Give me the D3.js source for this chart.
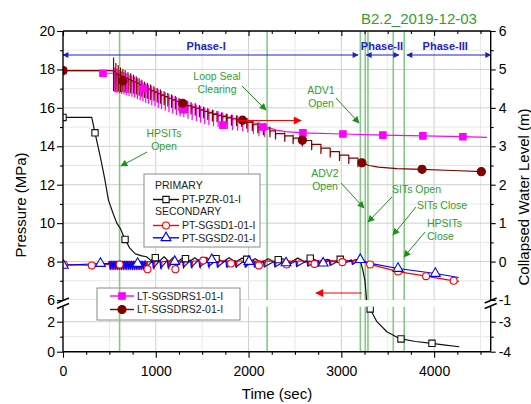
<!DOCTYPE html>
<html>
<head>
<meta charset="utf-8">
<script src="https://cdn.jsdelivr.net/npm/d3@7"></script>
<style>
  body { margin: 0; background: #fff; }
  svg { display: block; }
  text { font-family: "Liberation Sans", Arial, sans-serif; }
</style>
</head>
<body>
<svg width="531" height="404"></svg>
<script>
// ---- data ----
// time axis
const tMax = 4610;
const xMajor = [0, 1000, 2000, 3000, 4000];
const xMinor = [250, 500, 750, 1250, 1500, 1750, 2250, 2500, 2750, 3250, 3500, 3750, 4250, 4500];
const xGrid = [500, 1000, 1500, 2000, 2500, 3000, 3500, 4000, 4500];

// pressure axis (broken) and level axis (broken)
const pMajorTop = [6, 8, 10, 12, 14, 16, 18, 20];
const pMinorTop = [7, 9, 11, 13, 15, 17, 19];
const pMajorBot = [0, 2];
const pMinorBot = [1];
const lMajorTop = [-1, 0, 1, 2, 3, 4, 5, 6];
const lMinorTop = [-0.5, 0.5, 1.5, 2.5, 3.5, 4.5, 5.5];
const lMajorBot = [-4, -3];
const lMinorBot = [-3.5];

// PT-PZR-01-I  [time s, MPa]
const pzr = [[0,15.5],[310,15.5],[345,14.7],[400,13.5],[450,12.3],[490,11.2],[540,10.5],[580,10.0],
  [620,9.7],[669,9.15],[720,8.7],[780,8.4],[850,8.3],[900,8.25],[950,8.05],[990,8.28],[1040,8.02],
  [1090,8.25],[1140,8.0],[1190,8.22],[1240,8.0],[1300,8.22],[1360,7.98],[1420,8.2],[1480,7.98],
  [1540,8.22],[1600,8.0],[1660,8.2],[1720,7.98],[1790,8.2],[1860,7.98],[1930,8.18],[2000,7.96],
  [2070,8.15],[2140,7.95],[2210,8.15],[2290,7.95],[2370,8.15],[2450,7.95],[2530,8.18],[2610,7.97],
  [2690,8.15],[2770,7.97],[2850,8.12],[2930,7.98],[3010,8.12],[3090,8.0],[3160,8.1],[3200,8.1],
  [3230,7.6],[3255,7.0],[3272,6.0],[3286,3.0],[3311,2.85],[3383,2.0],[3491,1.33],[3600,0.96],
  [3643,0.85],[3800,0.68],[3977,0.56],[4100,0.46],[4272,0.33]];
const pzrMarks = [[0,15.5],[345,14.7],[669,9.15],[995,8.2],[1320,8.15],[1650,8.15],[1980,8.12],
  [2320,8.1],[2665,8.18],[2988,8.12],[3311,2.85],[3643,0.85],[3977,0.56]];

// PT-SGSD1-01-I  (V-shaped dips)
const sgsd1Start = [[0,7.85],[310,7.80],[490,7.85]];
const sgsd1T = [510,530,550,570,590,610,630,650,670,690,710,730,750,770,790,810,830,850,870,
  905,980,1060,1140,1215,1300,1390,1480,1575,1670,1770,1870,1970,2070,2175,2290,2405,2525,2645,2765,2885,3005,3125];
const sgsd1Hi = [8.0,8.0,8.0,8.0,8.0,8.0,8.0,8.0,8.0,8.0,8.0,8.0,8.0,8.0,8.0,8.0,8.0,8.0,8.0,
  8.0,8.0,8.0,8.02,8.02,8.02,8.03,8.03,8.04,8.04,8.04,8.03,8.03,8.02,8.02,8.02,8.02,8.03,8.03,8.04,8.04,8.05,8.05];
const sgsd1Lo = [7.58,7.58,7.58,7.58,7.58,7.58,7.58,7.58,7.58,7.58,7.58,7.58,7.58,7.58,7.58,7.58,7.58,7.58,7.58,
  7.58,7.6,7.6,7.6,7.62,7.65,7.65,7.66,7.66,7.68,7.68,7.7,7.7,7.7,7.72,7.74,7.74,7.76,7.78,7.8,7.82,7.84,7.86];
const sgsd1End = [[3200,8.05],[3311,7.85],[3611,7.48],[3913,7.24],[4211,7.0],[4270,6.97]];
const sgsd1Marks = [[10,7.85],[310,7.8],[611,7.85],[911,7.6],[1211,7.6],[1511,8.05],[1811,7.9],
  [2111,7.8],[2411,7.85],[2711,7.88],[3011,7.97],[3311,7.85],[3611,7.48],[3913,7.24],[4211,7.0]];

// PT-SGSD2-01-I  (sharp drop, slow rise)
const sgsd2Start = [[0,7.80],[404,7.90],[490,7.9]];
const sgsd2T = [500,520,540,560,580,600,620,640,660,680,700,720,740,760,780,800,820,840,860,
  885,965,1045,1125,1205,1290,1375,1465,1560,1655,1755,1855,1955,2055,2160,2275,2390,2510,2630,2750,2870,2990,3110];
const sgsd2Hi = [8.02,8.02,8.02,8.02,8.02,8.02,8.02,8.02,8.02,8.02,8.02,8.02,8.02,8.02,8.02,8.02,8.02,8.02,8.02,
  8.05,8.05,8.06,8.06,8.07,8.07,8.08,8.1,8.08,8.08,8.06,8.05,8.04,8.04,8.02,8.0,8.02,8.03,8.04,8.05,8.07,8.08,8.09];
const sgsd2Lo = [7.62,7.62,7.62,7.62,7.62,7.62,7.62,7.62,7.62,7.62,7.62,7.62,7.62,7.62,7.62,7.62,7.62,7.62,7.62,
  7.65,7.66,7.66,7.68,7.7,7.7,7.7,7.72,7.74,7.72,7.72,7.72,7.72,7.72,7.72,7.72,7.74,7.74,7.76,7.78,7.8,7.82,7.85];
const sgsd2End = [[3204,8.1],[3300,7.92],[3611,7.64],[4013,7.38],[4265,7.17]];
const sgsd2Marks = [[4,7.8],[404,7.9],[804,7.9],[1204,8.0],[1604,8.1],[2004,8.0],[2404,7.93],
  [2804,7.92],[3204,8.1],[3611,7.64],[4013,7.38]];

// LT-SGSDRS1-01-I  [time s, m]
const drs1Start = [[0,4.97],[400,4.97],[420,4.9],[540,4.9]];
const drs1TeethT = [557,582,607,632,657,682,712,742,772,802,832,862,892,922,957,992,1027,1062,1102,1142,
  1182,1222,1262,1302,1347,1392,1437,1482,1527,1572,1622,1672,1722,1772,1827,1882,1937,1992,2052,2112,2172];
const drs1TeethB = [4.92,4.88,4.85,4.82,4.80,4.77,4.74,4.71,4.68,4.64,4.60,4.56,4.52,4.49,4.45,4.41,4.37,4.33,4.29,4.25,
  4.21,4.17,4.13,4.10,4.06,4.02,3.99,3.95,3.91,3.88,3.85,3.82,3.79,3.76,3.73,3.71,3.69,3.65,3.60,3.55,3.52];
const drs1TeethUp = [0.12,0.12,0.12,0.12,0.12,0.12,0.12,0.12,0.12,0.12,0.1,0.1,0.1,0.1,0.1,0.1,0.1,0.1,0.1,0.1,
  0.1,0.1,0.1,0.1,0.1,0.08,0.08,0.08,0.08,0.08,0.08,0.08,0.08,0.08,0.08,0.08,0.08,0.08,0.08,0.08,0.08];
const drs1TeethDn = [0.5,0.48,0.46,0.45,0.44,0.43,0.42,0.41,0.4,0.4,0.39,0.38,0.38,0.37,0.37,0.36,0.36,0.35,0.35,0.35,
  0.34,0.34,0.34,0.33,0.33,0.33,0.32,0.32,0.32,0.31,0.31,0.3,0.3,0.3,0.29,0.29,0.28,0.28,0.27,0.27,0.26];
const drs1End = [[2200,3.50],[2300,3.42],[2400,3.38],[2586,3.35],[3017,3.32],[3448,3.29],[3879,3.27],[4310,3.25],[4570,3.23]];
const drs1Marks = [[0,4.97],[431,4.9],[862,4.5],[1293,3.95],[1724,3.55],[2155,3.5],[2586,3.35],[3017,3.32],[3448,3.29],[3879,3.27],[4310,3.25]];

// LT-SGSDRS2-01-I
const drs2Start = [[0,4.97],[500,4.97],[540,4.96]];
const drs2TeethT = [545,570,595,620,645,670,700,730,760,790,820,850,880,910,945,980,1015,1050,1090,1130,
  1170,1210,1250,1290,1335,1380,1425,1470,1515,1560,1610,1660,1710,1760,1815,1870,1925,1980,2040,2100,
  2160,2230,2290,2390,2480,2580,2680,2780,2880,2980,3080,3180];
const drs2TeethB = [4.95,4.88,4.85,4.82,4.80,4.77,4.74,4.71,4.68,4.64,4.60,4.56,4.52,4.49,4.45,4.41,4.37,4.33,4.29,4.25,
  4.21,4.17,4.13,4.10,4.06,4.02,3.99,3.95,3.91,3.87,3.83,3.80,3.77,3.74,3.71,3.69,3.67,3.62,3.56,3.50,
  3.45,3.40,3.33,3.27,3.21,3.15,3.05,2.95,2.86,2.77,2.69,2.61];
const drs2TeethUp = [0.35,0.28,0.25,0.22,0.2,0.2,0.18,0.18,0.17,0.17,0.16,0.16,0.15,0.15,0.15,0.14,0.14,0.14,0.13,0.13,
  0.13,0.13,0.12,0.12,0.12,0.12,0.12,0.11,0.11,0.11,0.11,0.11,0.1,0.1,0.1,0.1,0.1,0.1,0.1,0.1,
  0.1,0.1,0.08,0.08,0.08,0.08,0.08,0.08,0.08,0.08,0.08,0.08];
const drs2TeethDn = [0.5,0.45,0.42,0.4,0.38,0.36,0.34,0.32,0.3,0.28,0.27,0.26,0.25,0.24,0.23,0.22,0.22,0.21,0.21,0.2,
  0.2,0.2,0.19,0.19,0.19,0.18,0.18,0.18,0.17,0.17,0.17,0.16,0.16,0.16,0.16,0.15,0.15,0.15,0.15,0.15,
  0.15,0.15,0.14,0.14,0.14,0.14,0.14,0.14,0.14,0.14,0.14,0.14];
const drs2End = [[3222,2.57],[3300,2.50],[3400,2.46],[3600,2.42],[3870,2.40],[4200,2.37],[4520,2.34]];
const drs2Marks = [[0,4.97],[645,4.7],[1290,4.12],[1935,3.68],[2580,3.16],[3222,2.57],[3870,2.40],[4509,2.34]];

// events (green lines) and phases
const eventT = [610, 2200, 3205, 3258, 3287, 3560, 3678];
const phaseNames = ['Phase-I', 'Phase-II', 'Phase-III'];
const phaseStart = [0, 3268, 3707];
const phaseEnd = [3180, 3620, 4610];
const phaseLabelT = [1543, 3438, 4120];

// ---- scales ----
const x = d3.scaleLinear().domain([0, tMax]).range([63, 490.7]);
const pTop = d3.scaleLinear().domain([6, 20]).range([300, 31]);
const pBot = d3.scaleLinear().domain([0, 3]).range([351.7, 306.7]);
const lTop = d3.scaleLinear().domain([-1, 6]).range([300, 31]);
const lBot = d3.scaleLinear().domain([-4, -2.5]).range([351.7, 306.7]);
const yP = v => v >= 4.5 ? pTop(v) : pBot(v);
const yL = v => v >= -1.75 ? lTop(v) : lBot(v);

const X0 = 63, X1 = 490.7, Y0 = 31, Y1 = 351.7, GAP0 = 300, GAP1 = 306.7;

const svg = d3.select('svg');
const defs = svg.append('defs');
const clip = defs.append('clipPath').attr('id', 'plot');
clip.append('rect').attr('x', X0).attr('y', Y0).attr('width', X1 - X0).attr('height', GAP0 - Y0);
clip.append('rect').attr('x', X0).attr('y', GAP1).attr('width', X1 - X0).attr('height', Y1 - GAP1);

function arrowDef(id, color, w, h) {
  defs.append('marker').attr('id', id)
    .attr('viewBox', '0 0 10 10').attr('refX', 9).attr('refY', 5)
    .attr('markerWidth', w).attr('markerHeight', h)
    .attr('markerUnits', 'userSpaceOnUse')
    .attr('orient', 'auto-start-reverse')
    .append('path').attr('d', 'M0,0L10,5L0,10z').attr('fill', color);
}
arrowDef('ag', '#1e8f1e', 8, 7);
arrowDef('ar', '#ff0000', 11, 8);
arrowDef('ab', '#2020c0', 9, 6);

// ---- grid ----
const grid = svg.append('g').attr('clip-path', 'url(#plot)');
grid.selectAll('.gx').data(xGrid).join('line')
  .attr('x1', d => x(d)).attr('x2', d => x(d)).attr('y1', Y0).attr('y2', Y1)
  .attr('stroke', d => d % 1000 === 0 ? '#cfcfcf' : '#e8e8e8').attr('stroke-width', 1);
grid.selectAll('.gp').data(pMajorTop.concat(pMinorTop)).join('line')
  .attr('x1', X0).attr('x2', X1).attr('y1', d => pTop(d)).attr('y2', d => pTop(d))
  .attr('stroke', d => d % 2 === 0 ? '#cfcfcf' : '#e8e8e8');
grid.selectAll('.gb').data(pMajorBot.concat(pMinorBot)).join('line')
  .attr('x1', X0).attr('x2', X1).attr('y1', d => pBot(d)).attr('y2', d => pBot(d))
  .attr('stroke', d => d % 2 === 0 ? '#cfcfcf' : '#e8e8e8');

// ---- legend boxes ----
svg.append('rect').attr('x', 144).attr('y', 174).attr('width', 116).attr('height', 73)
  .attr('fill', '#fff').attr('stroke', '#8a8a8a');
svg.append('rect').attr('x', 97).attr('y', 288).attr('width', 143).attr('height', 32)
  .attr('fill', '#fff').attr('stroke', '#8a8a8a');

// ---- event lines ----
svg.append('g').attr('clip-path', 'url(#plot)')
  .selectAll('line').data(eventT).join('line')
  .attr('x1', d => x(d)).attr('x2', d => x(d)).attr('y1', Y0).attr('y2', Y1)
  .attr('stroke', '#86c986').attr('stroke-width', 1.6);

// ---- series ----
function teeth(start, T, B, U, D, end) {
  const pts = start.slice();
  T.forEach((t, i) => {
    const prev = pts[pts.length - 1][1];
    pts.push([t, prev], [t, B[i] + U[i]], [t, B[i] - D[i]], [t + 3, B[i]]);
  });
  return pts.concat(end);
}
function saw(start, T, Hi, Lo, end) {
  const pts = start.slice();
  T.forEach((t, i) => { pts.push([t, Hi[i]], [t + 8, Lo[i]]); });
  return pts.concat(end);
}
function vdips(start, T, Hi, Lo, end) {
  const pts = start.slice();
  T.forEach((t, i) => { pts.push([t - 6, Hi[i]], [t, Lo[i]], [t + 6, Hi[i]]); });
  return pts.concat(end);
}

const lineP = d3.line().x(d => x(d[0])).y(d => yP(d[1]));
const lineL = d3.line().x(d => x(d[0])).y(d => yL(d[1]));
const plot = svg.append('g').attr('clip-path', 'url(#plot)');

const series = [
  { pts: pzr, line: lineP, color: '#111' },
  { pts: vdips(sgsd1Start, sgsd1T, sgsd1Hi, sgsd1Lo, sgsd1End), line: lineP, color: '#ff0000' },
  { pts: saw(sgsd2Start, sgsd2T, sgsd2Hi, sgsd2Lo, sgsd2End), line: lineP, color: '#0000ff' },
  { pts: teeth(drs1Start, drs1TeethT, drs1TeethB, drs1TeethUp, drs1TeethDn, drs1End), line: lineL, color: '#ff00ff' },
  { pts: teeth(drs2Start, drs2TeethT, drs2TeethB, drs2TeethUp, drs2TeethDn, drs2End), line: lineL, color: '#800000' }
];
series.forEach(s => {
  plot.append('path').attr('d', s.line(s.pts)).attr('fill', 'none')
    .attr('stroke', s.color).attr('stroke-width', 1.2).attr('stroke-linejoin', 'round');
});

const sym = (type, size) => d3.symbol().type(type).size(size)();
function marks(data, yf, type, size, stroke, fill) {
  plot.append('g').selectAll('path').data(data).join('path')
    .attr('transform', d => `translate(${x(d[0])},${yf(d[1])})`)
    .attr('d', sym(type, size))
    .attr('fill', fill).attr('stroke', stroke).attr('stroke-width', 1.1);
}
marks(pzrMarks, yP, d3.symbolSquare, 40, '#111', '#fff');
marks(sgsd1Marks, yP, d3.symbolCircle, 38, '#ff0000', '#fff');
marks(sgsd2Marks, yP, d3.symbolTriangle, 42, '#0000ff', '#fff');
marks(drs1Marks, yL, d3.symbolSquare, 42, '#ff00ff', '#ff00ff');
marks(drs2Marks, yL, d3.symbolCircle, 52, '#800000', '#800000');

// ---- legends ----
const lg = svg.append('g').attr('font-size', 10.5).attr('fill', '#222');
lg.append('text').attr('x', 155).attr('y', 189).text('PRIMARY');
lg.append('text').attr('x', 155).attr('y', 215).text('SECONDARY');
const legendRows = [
  { y: 199.5, label: 'PT-PZR-01-I', color: '#111', type: d3.symbolSquare, size: 40, fill: '#fff', x0: 153, x1: 179 },
  { y: 225.5, label: 'PT-SGSD1-01-I', color: '#ff0000', type: d3.symbolCircle, size: 38, fill: '#fff', x0: 153, x1: 179 },
  { y: 237.8, label: 'PT-SGSD2-01-I', color: '#0000ff', type: d3.symbolTriangle, size: 42, fill: '#fff', x0: 153, x1: 179 },
  { y: 296, label: 'LT-SGSDRS1-01-I', color: '#ff00ff', type: d3.symbolSquare, size: 42, fill: '#ff00ff', x0: 110, x1: 134 },
  { y: 309.5, label: 'LT-SGSDRS2-01-I', color: '#800000', type: d3.symbolCircle, size: 52, fill: '#800000', x0: 110, x1: 134 }
];
legendRows.forEach(r => {
  lg.append('line').attr('x1', r.x0).attr('x2', r.x1).attr('y1', r.y).attr('y2', r.y)
    .attr('stroke', r.color).attr('stroke-width', 1.4);
  lg.append('path').attr('transform', `translate(${(r.x0 + r.x1) / 2},${r.y})`)
    .attr('d', sym(r.type, r.size)).attr('fill', r.fill).attr('stroke', r.color).attr('stroke-width', 1.1);
  lg.append('text').attr('x', r.x1 + 3).attr('y', r.y + 3.8).text(r.label);
});

// ---- phases ----
const ph = svg.append('g');
phaseNames.forEach((n, i) => {
  ph.append('line').attr('x1', x(phaseStart[i])).attr('x2', x(phaseEnd[i]))
    .attr('y1', 55).attr('y2', 55).attr('stroke', '#2020c0').attr('stroke-width', 1)
    .attr('marker-start', 'url(#ab)').attr('marker-end', 'url(#ab)');
  ph.append('text').attr('x', x(phaseLabelT[i])).attr('y', 49.5).attr('text-anchor', 'middle')
    .attr('font-size', 11).attr('font-weight', 'bold').attr('fill', '#2424c4').text(n);
});

// ---- annotations ----
const notes = [
  { lines: ['HPSITs', 'Open'], tx: 164, ty: 137, anchor: 'middle', from: [147, 152], to: [121, 166] },
  { lines: ['Loop Seal', 'Clearing'], tx: 217, ty: 80, anchor: 'middle', from: [242, 86], to: [266, 110] },
  { lines: ['ADV1', 'Open'], tx: 321, ty: 94, anchor: 'middle', from: [336, 98], to: [359, 123] },
  { lines: ['ADV2', 'Open'], tx: 325, ty: 177, anchor: 'middle', from: [341, 183], to: [364, 208] },
  { lines: ['SITs Open'], tx: 392, ty: 193, anchor: 'start', from: [392, 197], to: [368, 222] },
  { lines: ['SITs Close'], tx: 417, ty: 209, anchor: 'start', from: [416, 207], to: [393, 235] },
  { lines: ['HPSITs', 'Close'], tx: 427, ty: 227, anchor: 'start', from: [425, 232], to: [404, 257] }
];
const an = svg.append('g');
notes.forEach(n => {
  n.lines.forEach((s, k) => {
    an.append('text').attr('x', n.tx).attr('y', n.ty + k * 12.8).attr('text-anchor', n.anchor)
      .attr('font-size', 10.5).attr('fill', '#2fa02f').text(s);
  });
  an.append('line').attr('x1', n.from[0]).attr('y1', n.from[1]).attr('x2', n.to[0]).attr('y2', n.to[1])
    .attr('stroke', '#1e8f1e').attr('stroke-width', 1).attr('marker-end', 'url(#ag)');
});
// red direction arrows (right: level axis, left: pressure axis)
an.append('line').attr('x1', 238).attr('x2', 301).attr('y1', 120.5).attr('y2', 120.5)
  .attr('stroke', '#ff0000').attr('stroke-width', 1.2).attr('marker-end', 'url(#ar)');
an.append('line').attr('x1', 362).attr('x2', 316).attr('y1', 293).attr('y2', 293)
  .attr('stroke', '#ff0000').attr('stroke-width', 1.2).attr('marker-end', 'url(#ar)');

// ---- axes ----
const fmt = d => String(d);
function axis(gen, scale, vals, size, pad, tx, ty, labels) {
  const g = svg.append('g').attr('transform', `translate(${tx},${ty})`)
    .call(gen(scale).tickValues(vals).tickSize(size).tickPadding(pad).tickFormat(labels ? fmt : ''));
  g.select('.domain').remove();
  g.selectAll('line').attr('stroke', '#000').attr('stroke-width', 1.1);
  g.selectAll('text').attr('font-size', 14).attr('fill', '#000')
    .attr('font-family', '"Liberation Sans", Arial, sans-serif');
  return g;
}
axis(d3.axisLeft, pTop, pMajorTop, 6, 2, X0, 0, true);
axis(d3.axisLeft, pTop, pMinorTop, 3, 2, X0, 0, false);
axis(d3.axisLeft, pBot, pMajorBot, 6, 2, X0, 0, true);
axis(d3.axisLeft, pBot, pMinorBot, 3, 2, X0, 0, false);
axis(d3.axisRight, lTop, lMajorTop, 5, 3, X1, 0, true);
axis(d3.axisRight, lTop, lMinorTop, 3, 3, X1, 0, false);
axis(d3.axisRight, lBot, lMajorBot, 5, 3, X1, 0, true);
axis(d3.axisRight, lBot, lMinorBot, 3, 3, X1, 0, false);
axis(d3.axisBottom, x, xMajor, 6, 8, 0, Y1, true);
axis(d3.axisBottom, x, xMinor, 3, 8, 0, Y1, false);
axis(d3.axisTop, x, xMajor, -5, 2, 0, Y0, false);
axis(d3.axisTop, x, xMinor, -3, 2, 0, Y0, false);

const frame = svg.append('g').attr('stroke', '#000').attr('stroke-width', 1.4);
[[X0, Y0, X1, Y0], [X0, Y1, X1, Y1],
 [X0, Y0, X0, GAP0], [X0, GAP1, X0, Y1],
 [X1, Y0, X1, GAP0], [X1, GAP1, X1, Y1]].forEach(s => {
  frame.append('line').attr('x1', s[0]).attr('y1', s[1]).attr('x2', s[2]).attr('y2', s[3]);
});
[X0, X1].forEach(ax => {
  frame.append('line').attr('x1', ax - 6).attr('y1', 303).attr('x2', ax + 6).attr('y2', 298);
  frame.append('line').attr('x1', ax - 6).attr('y1', 308.5).attr('x2', ax + 6).attr('y2', 303.5);
});

// ---- titles ----
svg.append('text').attr('x', 361).attr('y', 24).attr('font-size', 15).attr('fill', '#2fa02f')
  .text('B2.2_2019-12-03');
svg.append('text').attr('x', 277).attr('y', 399).attr('text-anchor', 'middle')
  .attr('font-size', 15).text('Time (sec)');
svg.append('text').attr('transform', 'translate(26,205) rotate(-90)').attr('text-anchor', 'middle')
  .attr('font-size', 15).text('Pressure (MPa)');
svg.append('text').attr('transform', 'translate(529,197) rotate(-90)').attr('text-anchor', 'middle')
  .attr('font-size', 15).text('Collapsed Water Level (m)');
</script>
</body>
</html>
